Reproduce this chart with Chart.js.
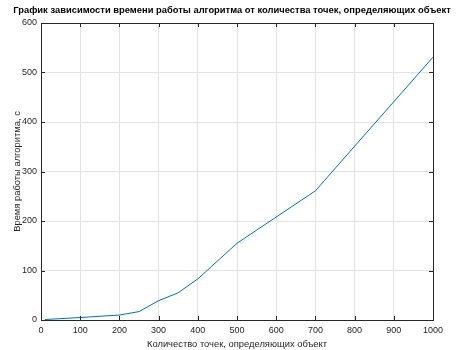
<!DOCTYPE html>
<html>
<head>
<meta charset="utf-8">
<script src="https://cdn.jsdelivr.net/npm/chart.js@4/dist/chart.umd.min.js"></script>
<style>
  html, body { margin: 0; padding: 0; background: #fff; }
  #wrap { width: 465px; height: 350px; }
</style>
</head>
<body>
<div id="wrap"><canvas id="chart" width="465" height="350"></canvas></div>
<script>
const pointCounts = [10, 100, 200, 250, 300, 350, 400, 500, 700, 1000];
const runTimes = [1, 5, 10, 17, 39, 55, 83, 155, 261, 531];
const xTicks = [0, 100, 200, 300, 400, 500, 600, 700, 800, 900, 1000];
const yTicks = [0, 100, 200, 300, 400, 500, 600];

const titleText = 'График зависимости времени работы алгоритма от количества точек, определяющих объект';
const xTitle = 'Количество точек, определяющих объект';
const yTitle = 'Время работы алгоритма, с';

const FONT = '"Liberation Sans", Arial, sans-serif';

// matlab-like box with inward ticks and a bold title on top
const boxPlugin = {
  id: 'box',
  afterDraw(chart) {
    const { ctx, chartArea: a, scales } = chart;
    ctx.save();
    ctx.strokeStyle = '#262626';
    ctx.lineWidth = 1;
    ctx.strokeRect(Math.round(a.left) + 0.5, Math.round(a.top) + 0.5,
      Math.round(a.right - a.left), Math.round(a.bottom - a.top));
    ctx.beginPath();
    xTicks.forEach(v => {
      const x = Math.round(scales.x.getPixelForValue(v)) + 0.5;
      ctx.moveTo(x, a.bottom); ctx.lineTo(x, a.bottom - 4);
      ctx.moveTo(x, a.top); ctx.lineTo(x, a.top + 4);
    });
    yTicks.forEach(v => {
      const y = Math.round(scales.y.getPixelForValue(v)) + 0.5;
      ctx.moveTo(a.left, y); ctx.lineTo(a.left + 4, y);
      ctx.moveTo(a.right, y); ctx.lineTo(a.right - 4, y);
    });
    ctx.stroke();
    ctx.fillStyle = '#000';
    ctx.font = 'bold 9.4px ' + FONT;
    ctx.textAlign = 'center';
    ctx.textBaseline = 'middle';
    ctx.fillText(titleText, 232, 10);
    ctx.restore();
  }
};

new Chart(document.getElementById('chart'), {
  type: 'line',
  data: {
    datasets: [{
      data: pointCounts.map((x, i) => ({ x: x, y: runTimes[i] })),
      borderColor: '#0072BD',
      borderWidth: 1,
      pointRadius: 0,
      tension: 0,
      fill: false
    }]
  },
  options: {
    responsive: false,
    animation: false,
    layout: { padding: { top: 23, right: 32, left: 0, bottom: 0 } },
    plugins: { legend: { display: false }, tooltip: { enabled: false } },
    scales: {
      x: {
        type: 'linear',
        min: 0, max: 1000,
        afterBuildTicks: s => { s.ticks = xTicks.map(v => ({ value: v })); },
        afterFit: s => { s.height = 30; },
        grid: { color: '#e3e3e3', drawTicks: false },
        border: { display: false },
        ticks: { color: '#262626', font: { family: FONT, size: 9 }, padding: 5, maxRotation: 0, callback: v => String(v) },
        title: { display: true, text: xTitle, color: '#262626', font: { family: FONT, size: 9.4 }, padding: { top: 1, bottom: 0 } }
      },
      y: {
        min: 0, max: 600,
        afterBuildTicks: s => { s.ticks = yTicks.map(v => ({ value: v })); },
        afterFit: s => { s.width = 41; },
        grid: { color: '#e3e3e3', drawTicks: false },
        border: { display: false },
        ticks: { color: '#262626', font: { family: FONT, size: 9 }, padding: 4, callback: v => String(v) },
        title: { display: true, text: yTitle, color: '#262626', font: { family: FONT, size: 9.4 }, padding: { top: 12, bottom: 0 } }
      }
    }
  },
  plugins: [boxPlugin]
});
</script>
</body>
</html>
